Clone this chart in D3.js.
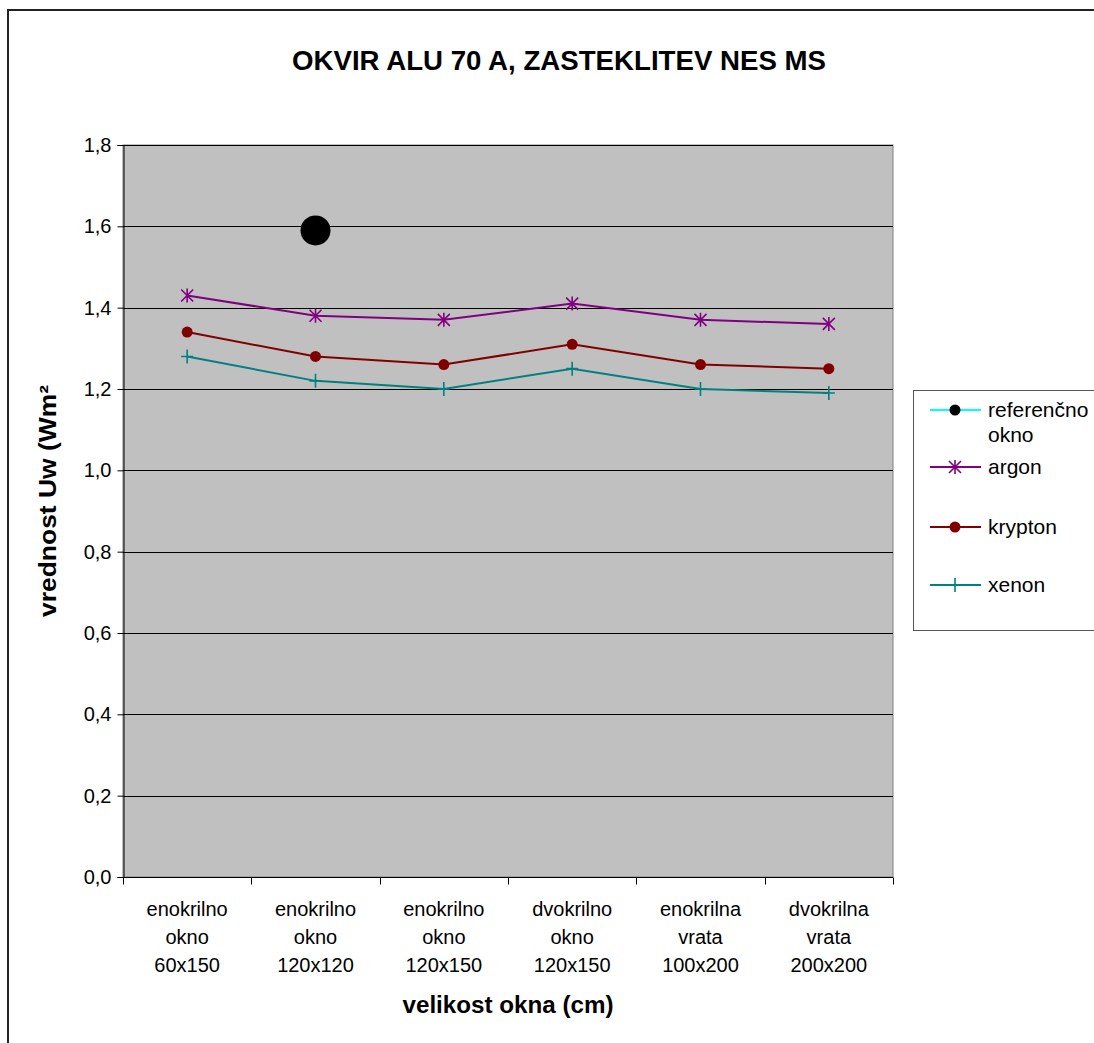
<!DOCTYPE html>
<html>
<head>
<meta charset="utf-8">
<script src="https://cdn.jsdelivr.net/npm/d3@7"></script>
<style>
  html, body { margin: 0; padding: 0; background: #fff; }
  svg { display: block; font-family: "Liberation Sans", Arial, sans-serif; }
</style>
</head>
<body>
<div id="chart"></div>
<script>
// categories (three lines each)
var categories = [
  ["enokrilno", "okno", "60x150"],
  ["enokrilno", "okno", "120x120"],
  ["enokrilno", "okno", "120x150"],
  ["dvokrilno", "okno", "120x150"],
  ["enokrilna", "vrata", "100x200"],
  ["dvokrilna", "vrata", "200x200"]
];

// series values (Uw)
var referencno = [null, 1.59, null, null, null, null];
var argon   = [1.43, 1.38, 1.37, 1.41, 1.37, 1.36];
var krypton = [1.34, 1.28, 1.26, 1.31, 1.26, 1.25];
var xenon   = [1.28, 1.22, 1.20, 1.25, 1.20, 1.19];

var yTicks = [0, 0.2, 0.4, 0.6, 0.8, 1.0, 1.2, 1.4, 1.6, 1.8];

var series = [
  { name: ["referenčno", "okno"], values: referencno, color: "#00ffff", marker: "bigdot" },
  { name: ["argon"], values: argon, color: "#800080", marker: "star" },
  { name: ["krypton"], values: krypton, color: "#800000", marker: "dot" },
  { name: ["xenon"], values: xenon, color: "#008080", marker: "plus" }
];

var width = 1094, height = 1043;
var plot = { left: 123, right: 893, top: 145, bottom: 877 };

var svg = d3.select("#chart").append("svg")
  .attr("width", width)
  .attr("height", height);

// outer chart frame (runs off the page on right and bottom)
svg.append("path")
  .attr("d", "M8,1043 V10 H1094")
  .attr("fill", "none")
  .attr("stroke", "#222")
  .attr("stroke-width", 2);

// scales
var x = d3.scaleBand()
  .domain(d3.range(categories.length))
  .range([plot.left, plot.right])
  .padding(0);

var y = d3.scaleLinear()
  .domain([0, 1.8])
  .range([plot.bottom, plot.top]);

var cx = function(i) { return x(i) + x.bandwidth() / 2; };
var fmt = function(v) { return d3.format(".1f")(v).replace(".", ","); };

// plot background
svg.append("rect")
  .attr("x", plot.left)
  .attr("y", plot.top)
  .attr("width", plot.right - plot.left)
  .attr("height", plot.bottom - plot.top)
  .attr("fill", "#c0c0c0")
  .attr("stroke", "#808080")
  .attr("stroke-width", 1);

// gridlines
svg.append("g")
  .selectAll("line")
  .data(yTicks.filter(function(d) { return d > 0; }))
  .enter().append("line")
  .attr("x1", plot.left)
  .attr("x2", plot.right)
  .attr("y1", function(d) { return Math.round(y(d)) + 0.5; })
  .attr("y2", function(d) { return Math.round(y(d)) + 0.5; })
  .attr("stroke", "#000")
  .attr("stroke-width", 1);

// y axis
var yAxis = svg.append("g")
  .attr("transform", "translate(" + (plot.left + 0.5) + ",0)")
  .call(d3.axisLeft(y).tickValues(yTicks).tickFormat(fmt).tickSize(6).tickPadding(6));
yAxis.select(".domain").attr("stroke", "#000");
yAxis.selectAll("text")
  .attr("font-size", 20)
  .attr("font-family", "Liberation Sans, Arial, sans-serif")
  .attr("fill", "#000");

// x axis (ticks at band boundaries)
var xAxis = svg.append("g")
  .attr("transform", "translate(0," + (plot.bottom + 0.5) + ")");
xAxis.append("line")
  .attr("x1", plot.left)
  .attr("x2", plot.right)
  .attr("stroke", "#000");
xAxis.selectAll("line.tick")
  .data(d3.range(categories.length + 1))
  .enter().append("line")
  .attr("class", "tick")
  .attr("x1", function(i) { return Math.round(i < categories.length ? x(i) : plot.right) + 0.5; })
  .attr("x2", function(i) { return Math.round(i < categories.length ? x(i) : plot.right) + 0.5; })
  .attr("y1", 0)
  .attr("y2", 7)
  .attr("stroke", "#000");

var catLabels = xAxis.selectAll("text.cat")
  .data(categories)
  .enter().append("text")
  .attr("class", "cat")
  .attr("text-anchor", "middle")
  .attr("font-size", 20)
  .attr("fill", "#000");
catLabels.selectAll("tspan")
  .data(function(d, i) { return d.map(function(t) { return { t: t, i: i }; }); })
  .enter().append("tspan")
  .attr("x", function(d) { return cx(d.i); })
  .attr("y", function(d, j) { return 38 + j * 28; })
  .text(function(d) { return d.t; });

// series lines and markers
var line = d3.line()
  .defined(function(d) { return d != null; })
  .x(function(d, i) { return cx(i); })
  .y(function(d) { return y(d); });

function drawMarker(g, type, color) {
  if (type === "bigdot") {
    g.append("circle").attr("r", 15).attr("fill", "#000");
  } else if (type === "dot") {
    g.append("circle").attr("r", 5.5).attr("fill", color);
  } else if (type === "star") {
    g.append("path")
      .attr("d", "M-6,-6L6,6M-6,6L6,-6M0,-7V7")
      .attr("stroke", color).attr("stroke-width", 1.6).attr("fill", "none");
  } else if (type === "plus") {
    g.append("path")
      .attr("d", "M-6,0H6M0,-7V7")
      .attr("stroke", color).attr("stroke-width", 1.6).attr("fill", "none");
  }
}

series.forEach(function(s) {
  svg.append("path")
    .datum(s.values)
    .attr("d", line)
    .attr("fill", "none")
    .attr("stroke", s.color)
    .attr("stroke-width", 2);
  s.values.forEach(function(v, i) {
    if (v == null) return;
    var g = svg.append("g").attr("transform", "translate(" + cx(i) + "," + y(v) + ")");
    drawMarker(g, s.marker, s.color);
  });
});

// title
svg.append("text")
  .attr("x", 559)
  .attr("y", 70)
  .attr("text-anchor", "middle")
  .attr("font-size", 27)
  .attr("font-weight", "bold")
  .attr("textLength", 534)
  .attr("lengthAdjust", "spacingAndGlyphs")
  .text("OKVIR ALU 70 A, ZASTEKLITEV NES MS");

// axis titles
svg.append("text")
  .attr("transform", "translate(56,501) rotate(-90)")
  .attr("text-anchor", "middle")
  .attr("font-size", 23)
  .attr("font-weight", "bold")
  .attr("textLength", 232)
  .attr("lengthAdjust", "spacingAndGlyphs")
  .text("vrednost Uw (Wm²");

svg.append("text")
  .attr("x", 508)
  .attr("y", 1013)
  .attr("text-anchor", "middle")
  .attr("font-size", 23)
  .attr("font-weight", "bold")
  .attr("textLength", 211)
  .attr("lengthAdjust", "spacingAndGlyphs")
  .text("velikost okna (cm)");

// legend
var legend = svg.append("g");
legend.append("rect")
  .attr("x", 913.5)
  .attr("y", 390.5)
  .attr("width", 200)
  .attr("height", 240)
  .attr("fill", "#fff")
  .attr("stroke", "#555")
  .attr("stroke-width", 1);

var legendY = [410, 467, 527, 585];
series.forEach(function(s, k) {
  var ly = legendY[k];
  legend.append("line")
    .attr("x1", 930).attr("x2", 981)
    .attr("y1", ly).attr("y2", ly)
    .attr("stroke", s.color)
    .attr("stroke-width", 2);
  var g = legend.append("g").attr("transform", "translate(955," + ly + ")");
  if (s.marker === "bigdot") {
    g.append("circle").attr("r", 5.5).attr("fill", "#000");
  } else {
    drawMarker(g, s.marker, s.color);
  }
  var t = legend.append("text")
    .attr("font-size", 21)
    .attr("fill", "#000");
  s.name.forEach(function(n, j) {
    t.append("tspan")
      .attr("x", 988)
      .attr("y", ly + 7 + j * 25)
      .text(n);
  });
});
</script>
</body>
</html>
